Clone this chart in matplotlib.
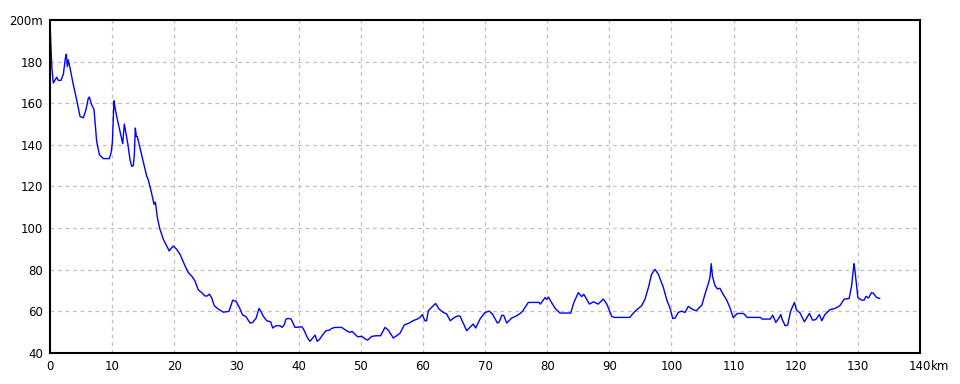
import matplotlib
matplotlib.use("Agg")
import matplotlib.pyplot as plt

# ── elevation profile (km, m) ────────────────────────────────────
dist_km = [
    0.0, 0.1, 0.3, 0.53, 1.07, 1.34, 1.77, 2.15, 2.47, 2.63, 2.79, 2.95, 3.22,
    3.75, 4.29, 4.83, 5.36, 5.79, 6.17, 6.33, 6.7, 7.08, 7.51, 7.94, 8.58,
    9.55, 9.82, 10.03, 10.3, 10.46, 10.73, 11.27, 11.7, 11.96, 12.17, 12.5,
    12.87, 13.14, 13.4, 13.57, 13.73, 13.9, 14.05, 14.48, 15.56, 15.8, 16.33,
    16.74, 16.95, 17.06, 17.27, 17.7, 18.24, 18.78, 19.2, 19.4, 19.85, 20.39,
    20.93, 21.73, 22.27, 22.8, 23.33, 23.87, 24.4, 24.94, 25.3, 25.65, 26.0,
    26.44, 27.08, 27.9, 28.8, 29.4, 29.94, 30.47, 31.0, 31.5, 32.19, 32.6,
    33.15, 33.63, 33.9, 34.33, 34.87, 35.51, 35.84, 36.37, 37.01, 37.34,
    37.66, 37.98, 38.36, 38.8, 39.43, 40.5, 40.8, 41.4, 41.84, 42.27, 42.65,
    43.0, 43.4, 43.98, 44.4, 45.0, 45.3, 45.9, 46.94, 47.7, 48.28, 48.6,
    49.06, 49.5, 50.2, 50.6, 51.1, 51.78, 52.5, 53.2, 53.9, 54.43, 55.25,
    55.9, 56.3, 57.0, 57.8, 58.4, 59.1, 59.5, 59.9, 60.34, 60.6, 60.88, 61.4,
    62.06, 62.6, 63.3, 63.84, 64.4, 65.1, 65.7, 66.0, 67.05, 68.1, 68.5,
    69.2, 70.0, 70.7, 71.2, 72.0, 72.3, 72.7, 73.0, 73.5, 74.3, 75.1, 75.66,
    76.1, 76.97, 78.7, 78.9, 79.66, 79.9, 80.2, 80.7, 81.3, 82.07, 83.8,
    84.3, 85.02, 85.56, 85.9, 86.8, 87.44, 88.2, 89.04, 89.6, 90.4, 90.8,
    93.3, 93.96, 94.66, 95.2, 95.75, 96.3, 96.8, 97.36, 97.9, 98.7, 99.24,
    99.8, 100.2, 100.6, 101.1, 101.6, 102.2, 102.7, 103.5, 104.0, 104.5,
    104.9, 105.4, 105.9, 106.2, 106.4, 106.6, 107.0, 107.4, 107.8, 108.3,
    108.9, 109.4, 109.96, 110.6, 111.6, 112.2, 114.3, 114.6, 115.9, 116.3,
    116.8, 117.3, 117.6, 117.8, 118.3, 118.7, 119.2, 119.8, 120.1, 120.7,
    121.4, 122.2, 122.7, 123.2, 123.8, 124.2, 124.7, 125.5, 126.3, 127.1,
    127.8, 128.6, 129.0, 129.3, 129.4, 129.6, 130.0, 130.6, 131.0, 131.3,
    131.7, 132.2, 132.5, 133.0, 133.5,
]
elev_m = [
    200.0, 191.0, 177.0, 169.7, 172.5, 171.0, 171.0, 174.0, 181.6, 183.6,
    177.6, 180.8, 177.0, 168.9, 161.7, 153.7, 153.0, 156.9, 162.5, 163.0,
    159.3, 157.0, 141.7, 135.3, 133.4, 133.4, 136.1, 140.9, 161.2, 158.0,
    153.7, 146.5, 140.6, 150.0, 146.5, 140.9, 133.0, 129.7, 130.0, 135.0,
    148.1, 144.0, 144.0, 138.5, 125.0, 123.4, 117.0, 111.4, 112.5, 110.3,
    105.0, 99.4, 94.6, 91.4, 89.0, 90.0, 91.4, 89.8, 87.4, 81.8, 78.6, 77.0,
    74.6, 70.3, 69.0, 67.4, 67.4, 68.3, 66.6, 62.7, 61.1, 59.6, 60.0, 65.4,
    64.8, 61.9, 58.2, 57.6, 54.4, 54.7, 56.6, 61.4, 60.2, 57.6, 55.5, 55.0,
    52.0, 53.1, 53.1, 52.3, 53.4, 56.3, 56.6, 56.3, 52.3, 52.6, 51.5, 47.5,
    45.6, 47.2, 48.6, 45.6, 46.7, 49.1, 50.7, 51.0, 51.8, 52.3, 52.3, 50.7,
    49.9, 50.4, 49.1, 47.8, 48.0, 47.0, 46.2, 48.0, 48.3, 48.3, 52.3, 51.0,
    47.2, 48.6, 49.4, 53.4, 54.4, 55.5, 56.3, 57.0, 58.4, 55.5, 55.5, 60.3,
    61.9, 63.8, 61.1, 59.5, 58.7, 55.5, 57.1, 57.9, 57.6, 50.7, 53.9, 52.0,
    56.3, 59.5, 60.1, 58.7, 54.4, 55.0, 58.1, 58.1, 54.4, 56.8, 57.9, 59.0,
    60.3, 64.3, 64.3, 63.5, 66.6, 65.8, 66.9, 64.3, 61.4, 59.2, 59.2, 64.3,
    69.0, 67.1, 68.2, 63.5, 64.6, 63.5, 65.9, 63.5, 57.6, 57.1, 57.1, 59.5,
    61.4, 62.7, 65.9, 71.5, 77.8, 80.2, 77.8, 71.5, 65.6, 61.3, 56.6, 56.8,
    59.5, 60.1, 59.5, 62.4, 60.8, 60.3, 61.9, 63.0, 68.3, 73.0, 76.3, 82.9,
    77.0, 72.4, 70.8, 71.1, 68.3, 65.4, 61.9, 56.9, 59.0, 59.0, 57.1, 57.1,
    56.3, 56.3, 58.2, 54.7, 56.8, 58.5, 56.3, 53.1, 53.4, 60.3, 64.3, 60.8,
    59.2, 55.0, 59.0, 55.8, 56.0, 58.5, 55.5, 58.5, 60.8, 61.4, 62.7, 65.9,
    66.2, 72.4, 81.0, 82.9, 77.8, 66.7, 65.4, 65.4, 67.2, 66.4, 69.0, 68.7,
    66.7, 66.2,
]

x_ticks = list(range(0, 141, 10))
y_ticks = list(range(40, 201, 20))
y_tick_labels = [str(v) for v in y_ticks[:-1]] + ["200m"]

fig = plt.figure(figsize=(9.6, 3.84), dpi=100)
ax = fig.add_axes([50 / 960, 31 / 384, 870 / 960, 333 / 384])

ax.plot(dist_km, elev_m, color="#0000ff", linewidth=1.0)

ax.set_xlim(0, 140)
ax.set_ylim(40, 200)
ax.set_xticks(x_ticks)
ax.set_yticks(y_ticks)
ax.set_yticklabels(y_tick_labels)
ax.grid(True, color="#c0c0c0", linestyle=(0, (3, 3)), linewidth=0.9)
ax.set_axisbelow(True)
ax.tick_params(length=0, labelsize=8.5, pad=5)
for sp in ax.spines.values():
    sp.set_color("black")
    sp.set_linewidth(1.5)

# unit right after the last x tick label ("140km")
ax.annotate("km", xy=(1, 0), xycoords="axes fraction", xytext=(7.5, -5),
            textcoords="offset points", ha="left", va="top", fontsize=8.5)

fig.savefig("out.png", dpi=100)
